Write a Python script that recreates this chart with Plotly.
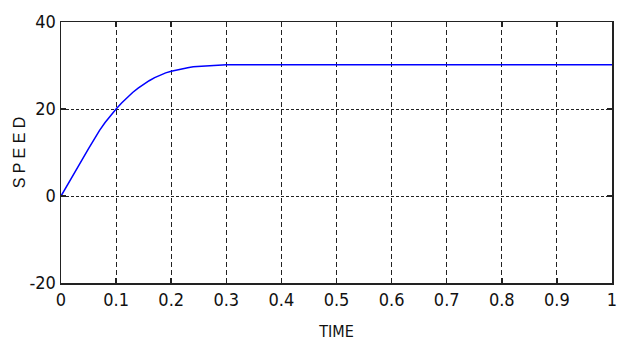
import plotly.graph_objects as go

time = [0, 0.01, 0.02, 0.03, 0.04, 0.05, 0.06, 0.07, 0.08, 0.09, 0.10, 0.11, 0.12,
        0.13, 0.14, 0.15, 0.16, 0.17, 0.18, 0.19, 0.20, 0.21, 0.22, 0.23, 0.24,
        0.25, 0.26, 0.28, 0.30, 1.0]
speed = [0, 2.1, 4.3, 6.5, 8.7, 10.9, 13.1, 15.1, 16.9, 18.5, 20.0, 21.4, 22.7,
         23.8, 24.8, 25.7, 26.5, 27.2, 27.8, 28.3, 28.7, 29.0, 29.3, 29.5, 29.7,
         29.8, 29.9, 30.1, 30.2, 30.2]

x_ticks = [0, 0.1, 0.2, 0.3, 0.4, 0.5, 0.6, 0.7, 0.8, 0.9, 1]
x_labels = ["0", "0.1", "0.2", "0.3", "0.4", "0.5", "0.6", "0.7", "0.8", "0.9", "1"]
y_ticks = [-20, 0, 20, 40]
y_labels = ["-20", "0", "20", "40"]

narrow = "DejaVu Sans Condensed, Liberation Sans Narrow, Arial Narrow, sans-serif"

fig = go.Figure()
fig.add_trace(go.Scatter(x=time, y=speed, mode="lines",
                         line=dict(color="#0000ff", width=1.5), hoverinfo="skip"))

fig.update_layout(
    width=618, height=343,
    margin=dict(l=61, r=6, t=22, b=60),
    paper_bgcolor="white", plot_bgcolor="white",
    showlegend=False,
    xaxis=dict(
        range=[0, 1], tickvals=x_ticks, ticktext=x_labels, automargin=False,
        ticklabeloverflow="allow",
        showline=True, linecolor="#222", linewidth=1.5, mirror="ticks",
        ticks="inside", ticklen=5, tickcolor="#222", tickwidth=1.5,
        showgrid=True, gridcolor="#222", gridwidth=1, griddash="5px,3px",
        zeroline=False,
        tickfont=dict(family=narrow, size=18, color="#111"),
        title=dict(text="TIME", font=dict(family=narrow, size=16, color="#111"), standoff=16),
    ),
    yaxis=dict(
        range=[-20, 40], tickvals=y_ticks, ticktext=y_labels, automargin=False,
        ticklabeloverflow="allow",
        showline=True, linecolor="#222", linewidth=1.5, mirror="ticks",
        ticks="inside", ticklen=5, tickcolor="#222", tickwidth=1.5,
        showgrid=True, gridcolor="#222", gridwidth=1, griddash="3px,2px",
        zeroline=False,
        tickfont=dict(family=narrow, size=18, color="#111"),
        title=dict(text="S P E E D",
                   font=dict(family="Liberation Sans, Arial, sans-serif", size=16, color="#111"),
                   standoff=0),
    ),
)

fig.write_html("out.html",
               config={"displayModeBar": False, "staticPlot": True},
               post_script="document.body.style.margin='0';document.body.style.overflow='hidden';")
